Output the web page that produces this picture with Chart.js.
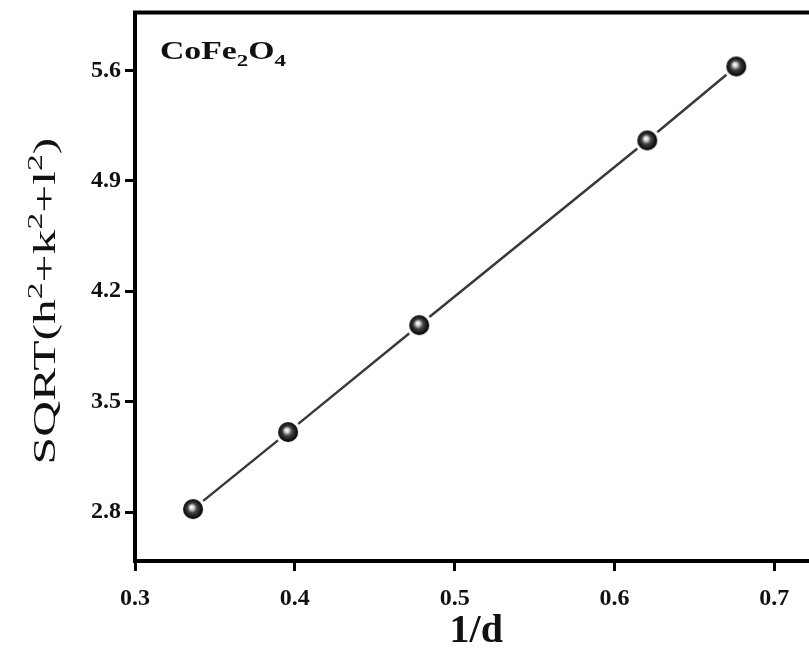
<!DOCTYPE html>
<html>
<head>
<meta charset="UTF-8">
<title>CoFe2O4</title>
<script src="https://cdn.jsdelivr.net/npm/chart.js"></script>
<style>
    html, body { margin: 0; padding: 0; background: #fff; overflow: hidden; }
    #wrap { width: 830px; height: 656px; }
</style>
</head>
<body>
<div id="wrap"><canvas id="chart" width="830" height="656"></canvas></div>
<script>
    // values
    const invD = [0.3363, 0.3958, 0.4778, 0.6205, 0.6762];
    const sqrtHKL = [2.819, 3.307, 3.985, 5.156, 5.625];
    const xTicks = [0.3, 0.4, 0.5, 0.6, 0.7];
    const yTicks = [2.8, 3.5, 4.2, 4.9, 5.6];

    const serif = '"Liberation Serif", "Times New Roman", serif';

    // shaded ball marker, with a white ring so the line stops short of it
    function makeBall() {
        const c = document.createElement('canvas');
        c.width = 28; c.height = 28;
        const g = c.getContext('2d');
        g.fillStyle = '#fff';
        g.beginPath(); g.arc(14, 14, 13, 0, Math.PI * 2); g.fill();
        const grad = g.createRadialGradient(12.5, 12, 0.5, 14, 14, 10);
        grad.addColorStop(0, '#ffffff');
        grad.addColorStop(0.18, '#d0d0d0');
        grad.addColorStop(0.45, '#444');
        grad.addColorStop(0.85, '#111');
        grad.addColorStop(1, '#000');
        g.fillStyle = grad;
        g.beginPath(); g.arc(14, 14, 10, 0, Math.PI * 2); g.fill();
        return c;
    }

    // draw pieces of text with sub/superscripts, stretched along the writing direction
    function drawRich(ctx, parts, size, weight, stretch, align) {
        let total = 0;
        parts.forEach(p => {
            const s = p.s ? size * 0.68 : size;
            ctx.font = weight + ' ' + s + 'px ' + serif;
            p.w = ctx.measureText(p.t).width;
            total += p.w;
        });
        ctx.save();
        ctx.scale(stretch, 1);
        let x = align === 'center' ? -total / 2 : 0;
        parts.forEach(p => {
            const s = p.s ? size * 0.68 : size;
            ctx.font = weight + ' ' + s + 'px ' + serif;
            const dy = p.s === 'sup' ? -size * 0.42 : (p.s === 'sub' ? size * 0.28 : 0);
            ctx.fillText(p.t, x, dy);
            x += p.w;
        });
        ctx.restore();
    }

    const decor = {
        id: 'decor',
        afterDraw(chart) {
            const ctx = chart.ctx;
            const a = chart.chartArea;
            ctx.save();
            ctx.strokeStyle = '#000';
            ctx.lineWidth = 4;
            ctx.beginPath();
            ctx.moveTo(a.left - 2, a.top);
            ctx.lineTo(a.right, a.top);
            ctx.lineTo(a.right, a.bottom);
            ctx.stroke();

            ctx.fillStyle = '#111';
            ctx.textBaseline = 'alphabetic';

            // label inside the frame
            ctx.save();
            ctx.translate(a.left + 25, a.top + 46);
            drawRich(ctx, [{t: 'CoFe'}, {t: '2', s: 'sub'}, {t: 'O'}, {t: '4', s: 'sub'}], 25, 'bold', 1.35, 'left');
            ctx.restore();

            // y axis title
            ctx.save();
            ctx.translate(55, 301);
            ctx.rotate(-Math.PI / 2);
            drawRich(ctx, [{t: 'SQRT(h'}, {t: '2', s: 'sup'}, {t: '+k'}, {t: '2', s: 'sup'},
                           {t: '+l'}, {t: '2', s: 'sup'}, {t: ')'}], 31, 'normal', 1.6, 'center');
            ctx.restore();
            ctx.restore();
        }
    };

    new Chart(document.getElementById('chart'), {
        type: 'scatter',
        data: {
            datasets: [{
                data: invD.map((x, i) => ({x: x, y: sqrtHKL[i]})),
                showLine: true,
                borderColor: '#3a3a3a',
                borderWidth: 2.5,
                tension: 0,
                pointStyle: makeBall(),
                pointRadius: 10,
                pointHoverRadius: 10
            }]
        },
        options: {
            responsive: false,
            animation: false,
            events: [],
            layout: { padding: { left: 0, top: 12, right: 8, bottom: 0 } },
            plugins: { legend: { display: false }, tooltip: { enabled: false } },
            scales: {
                x: {
                    type: 'linear',
                    min: 0.3,
                    max: 0.727,
                    afterBuildTicks: s => { s.ticks = xTicks.map(v => ({value: v})); },
                    afterFit: s => { s.height = 95; s.paddingLeft = 0; s.paddingRight = 0; },
                    border: { display: true, width: 4, color: '#000' },
                    grid: { drawOnChartArea: false, tickLength: 10, tickWidth: 3, tickColor: '#000' },
                    ticks: {
                        padding: 13,
                        color: '#111',
                        font: { family: serif, size: 24, weight: 'bold' },
                        callback: v => v.toFixed(1)
                    },
                    title: {
                        display: true,
                        text: '1/d',
                        color: '#111',
                        padding: { top: 0, bottom: 0 },
                        font: { family: serif, size: 40, weight: 'bold' }
                    }
                },
                y: {
                    type: 'linear',
                    min: 2.49,
                    max: 5.967,
                    afterBuildTicks: s => { s.ticks = yTicks.map(v => ({value: v})); },
                    afterFit: s => { s.width = 135; s.paddingTop = 0; s.paddingBottom = 0; },
                    border: { display: true, width: 4, color: '#000' },
                    grid: { drawOnChartArea: false, tickLength: 10, tickWidth: 3, tickColor: '#000' },
                    ticks: {
                        padding: 4,
                        color: '#111',
                        font: { family: serif, size: 24, weight: 'bold' },
                        callback: v => v.toFixed(1)
                    }
                }
            }
        },
        plugins: [decor]
    });
</script>
</body>
</html>
